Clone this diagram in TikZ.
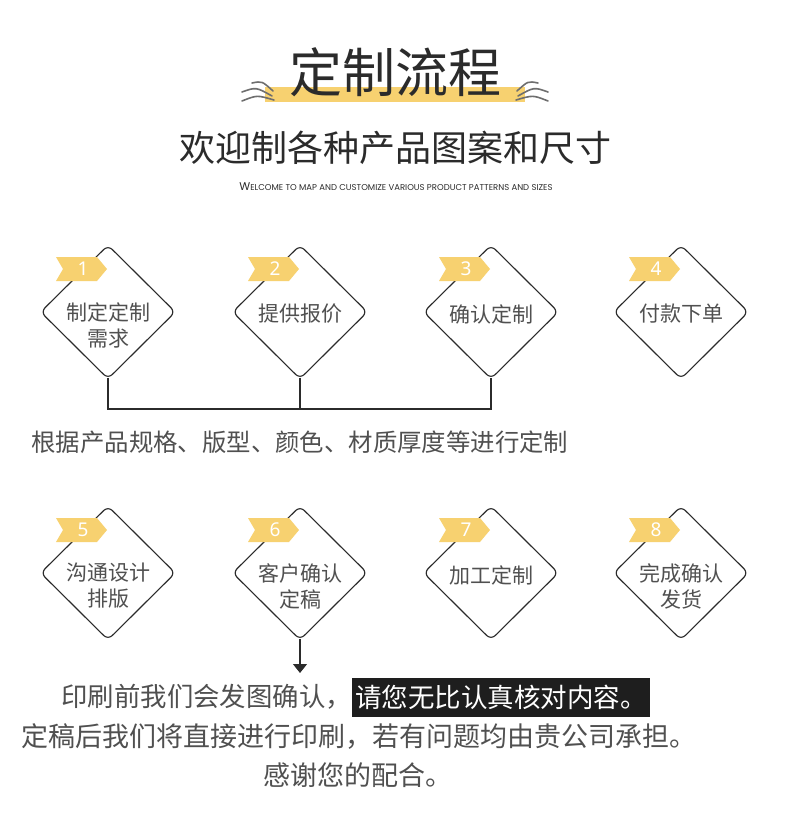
\documentclass[tikz,border=0pt]{standalone}
\usepackage{fontspec}
\setmainfont{Noto Sans CJK SC}
\newfontfamily\capsfont{Poppins}
\newfontfamily\numfont{Noto Sans}
\usetikzlibrary{shapes.geometric,arrows.meta,calc}
\definecolor{ink}{HTML}{2B2B2B}
\definecolor{soft}{HTML}{505050}
\definecolor{gold}{HTML}{F7D170}
\definecolor{wavegray}{HTML}{6E6E6E}
\definecolor{boxblack}{HTML}{1E1E1E}
\tikzset{
  diam/.style={diamond, draw=ink, line width=1.15pt, rounded corners=6pt,
    minimum width=135pt, minimum height=134pt, inner sep=0pt},
  tag/.style={fill=gold},
  num/.style={text=white, font=\numfont\fontsize{19}{19}\selectfont, inner sep=0pt},
  lab/.style={text=soft, font=\fontsize{21}{26}\selectfont, align=center, inner sep=0pt},
  conn/.style={draw=ink, line width=1.1pt},
  wave/.style={draw=wavegray, line width=1.6pt, line cap=round},
  body/.style={text=soft, font=\fontsize{27}{30}\selectfont, inner sep=0pt},
}
\begin{document}
\begin{tikzpicture}[x=1pt,y=-1pt]
  \useasboundingbox[fill=white] (0,0) rectangle (790,830);
  % heading
  \fill[gold] (265,87) rectangle (525,102);
  \node[text=ink, font=\fontsize{53}{53}\selectfont, inner sep=0pt] (title) at (395,72) {定制流程};
  \draw[wave] (252,83) .. controls (262,81) .. (273,91);
  \draw[wave] (242,92) .. controls (256,87) .. (272,96);
  \draw[wave] (242,101) .. controls (257,95) .. (274,100);
  \draw[wave] (538,83) .. controls (528,81) .. (517,91);
  \draw[wave] (548,92) .. controls (534,87) .. (518,96);
  \draw[wave] (548,101) .. controls (533,95) .. (516,100);
  \node[text=ink, font=\fontsize{36}{36}\selectfont, inner sep=0pt] (sub) at (395,148) {欢迎制各种产品图案和尺寸};
  \node[text=ink, inner sep=0pt] (eng) at (396,187)
    {\capsfont\fontsize{11.2}{12}\selectfont W\fontsize{8.5}{10}\selectfont ELCOME TO MAP AND CUSTOMIZE VARIOUS PRODUCT PATTERNS AND SIZES};
  % steps
  \foreach \i/\x/\y/\dy/\txt in {
      1/108/312/13/{制定定制\\需求}, 2/300/312/2/{提供报价}, 3/491/312/2/{确认定制}, 4/681/312/2/{付款下单},
      5/108/573/13/{沟通设计\\排版}, 6/300/573/13/{客户确认\\定稿}, 7/491/573/2/{加工定制}, 8/681/573/13/{完成确认\\发货}} {
    \node[diam] (d\i) at (\x,\y) {};
    \node[lab] (t\i) at (\x,\y+\dy) {\txt};
    \begin{scope}[shift={(\x,\y)}]
      \fill[tag] (-52,-55) -- (-11,-55) -- (-1,-43) -- (-11,-31) -- (-52,-31) -- (-45,-43) -- cycle;
      \node[num] (n\i) at (-25,-43) {\i};
    \end{scope}
  }
  \coordinate (bar) at (0,409);
  \draw[conn] ([yshift=2pt]d1.south) |- (d3.south |- bar) -- ([yshift=2pt]d3.south);
  \draw[conn] ([yshift=2pt]d2.south) -- (d2.south |- bar);
  \node[text=soft, font=\fontsize{24.4}{28}\selectfont, inner sep=0pt] (note) at (300,442)
    {根据产品规格、版型、颜色、材质厚度等进行定制};
  \coordinate (tip) at (300,673);
  \draw[conn, -{Triangle[width=14pt,length=9pt]}] ([yshift=2pt]d6.south) -- (tip);
  % closing text
  \node[fill=boxblack, text=white, font=\fontsize{26.5}{30}\selectfont, anchor=west,
    minimum height=39pt, inner xsep=3pt, inner ysep=0pt] (hl) at (352,697) {请您无比认真核对内容。};
  \node[body, font=\fontsize{26.4}{30}\selectfont, anchor=east] (l1) at (hl.west) {印刷前我们会发图确认，};
  \node[body, anchor=west] (l2) at (21,736) {定稿后我们将直接进行印刷，若有问题均由贵公司承担。};
  \node[body, anchor=west] (l3) at (263,775) {感谢您的配合。};
\end{tikzpicture}
\end{document}
